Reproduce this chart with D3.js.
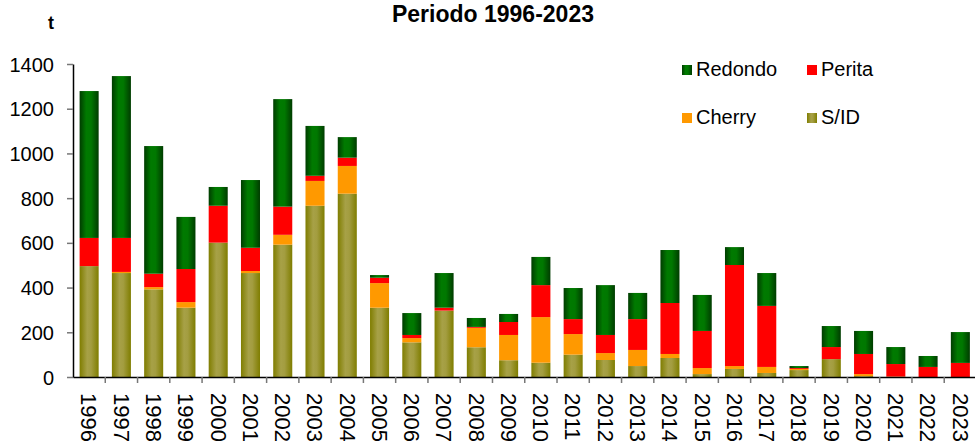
<!DOCTYPE html>
<html><head><meta charset="utf-8">
<script src="https://cdn.jsdelivr.net/npm/d3@7"></script>
<style>html,body{margin:0;padding:0;background:#fff;overflow:hidden}</style>
</head><body>
<svg id="chart" width="975" height="441"></svg>
<script>
const years = ["1996","1997","1998","1999","2000","2001","2002","2003","2004","2005","2006","2007","2008","2009","2010","2011","2012","2013","2014","2015","2016","2017","2018","2019","2020","2021","2022","2023"];
const sid     = [496,465,392,310,601,465,592,766,820,310,155,297,133,75,64,100,76,49,85,13,36,18,31,80,4,0,0,0];
const cherry  = [0,5,10,25,0,9,44,111,124,110,19,0,87,113,204,92,31,72,18,27,13,27,5,0,9,2,0,0];
const perita  = [126,152,60,148,165,104,126,23,37,24,14,13,4,58,143,67,81,138,228,166,452,273,4,54,90,56,45,63];
const redondo = [657,724,571,233,84,303,481,223,92,12,98,155,40,36,126,139,223,117,237,161,80,147,9,94,103,76,49,138];
const seriesNames = ["S/ID","Cherry","Perita","Redondo"];
const yTicks = [0,200,400,600,800,1000,1200,1400];

const svg = d3.select("#chart");
const font = "Liberation Sans, Arial, Helvetica, sans-serif";

const x = d3.scaleBand().domain(years).range([73, 976.5]).padding(0);
const y = d3.scaleLinear().domain([0, 1400]).range([377, 64]);

const defs = svg.append("defs");
function hgrad(id, stops){
  const g = defs.append("linearGradient").attr("id", id).attr("x1","0").attr("x2","1").attr("y1","0").attr("y2","0");
  stops.forEach(s => g.append("stop").attr("offset", s[0]).attr("stop-color", s[1]));
}
hgrad("gGreen", [[0,"#003c00"],[0.35,"#007a00"],[0.6,"#007800"],[1,"#003c00"]]);
hgrad("gOlive", [[0,"#7f7d00"],[0.4,"#a7a147"],[0.6,"#a39d40"],[1,"#7f7d00"]]);

const fills = {"S/ID":"url(#gOlive)","Cherry":"#ff9900","Perita":"#ff0000","Redondo":"url(#gGreen)"};

const rows = years.map((yr,i)=>({year:yr,"S/ID":sid[i],"Cherry":cherry[i],"Perita":perita[i],"Redondo":redondo[i]}));
const stack = d3.stack().keys(seriesNames)(rows);

const barW = x.bandwidth()*0.59;
const off = (x.bandwidth()-barW)/2;

svg.append("g").selectAll("g").data(stack).join("g")
  .attr("fill", d => fills[d.key])
  .selectAll("rect").data(d => d).join("rect")
  .attr("x", d => x(d.data.year) + off)
  .attr("width", barW)
  .attr("y", d => y(d[1]))
  .attr("height", d => Math.max(0, y(d[0]) - y(d[1])));

// Y axis
const yAxis = svg.append("g").attr("transform","translate(73,0)")
  .call(d3.axisLeft(y).tickValues(yTicks).tickFormat(d3.format("d")).tickSize(6).tickPadding(13).tickSizeOuter(0));
yAxis.select(".domain").attr("stroke","#000").attr("stroke-width",1.5);
yAxis.selectAll(".tick line").attr("stroke","#777").attr("stroke-width",1.5);
yAxis.selectAll("text").attr("font-family",font).attr("font-size","20px").attr("fill","#000").attr("dy","0.35em");

// X axis
const xAxis = svg.append("g").attr("transform","translate(0,377)")
  .call(d3.axisBottom(x).tickSize(0).tickSizeOuter(0));
xAxis.select(".domain").attr("stroke","#000").attr("stroke-width",1.5);
xAxis.selectAll(".tick line").remove();
xAxis.selectAll("text")
  .attr("font-family",font).attr("font-size","22px").attr("fill","#000")
  .attr("text-anchor","start")
  .attr("transform","translate(0,16) rotate(90)")
  .attr("x",0).attr("y",0).attr("dy","0.35em");
// boundary ticks
svg.append("g").selectAll("line").data(years.slice(1)).join("line")
  .attr("x1", d => x(d)).attr("x2", d => x(d))
  .attr("y1", 377).attr("y2", 383)
  .attr("stroke","#777").attr("stroke-width",1.5);

// Title & unit
svg.append("text").attr("x",493).attr("y",22).attr("text-anchor","middle")
  .attr("font-family",font).attr("font-weight","bold").attr("font-size","23px").text("Periodo 1996-2023");
svg.append("text").attr("x",51).attr("y",29).attr("text-anchor","middle")
  .attr("font-family",font).attr("font-weight","bold").attr("font-size","18px").text("t");

// Legend
const legendItems = [
  {name:"Redondo", x:682, y:65},
  {name:"Perita", x:807, y:65},
  {name:"Cherry", x:682, y:113},
  {name:"S/ID", x:807, y:113}
];
const lg = svg.append("g").selectAll("g").data(legendItems).join("g")
  .attr("transform", d => `translate(${d.x},${d.y})`);
lg.append("rect").attr("width",10).attr("height",10).attr("fill", d => fills[d.name]);
lg.append("text").attr("x",14).attr("y",11).attr("font-family",font).attr("font-size","20px").attr("fill","#000").text(d => d.name);
</script>
</body></html>
